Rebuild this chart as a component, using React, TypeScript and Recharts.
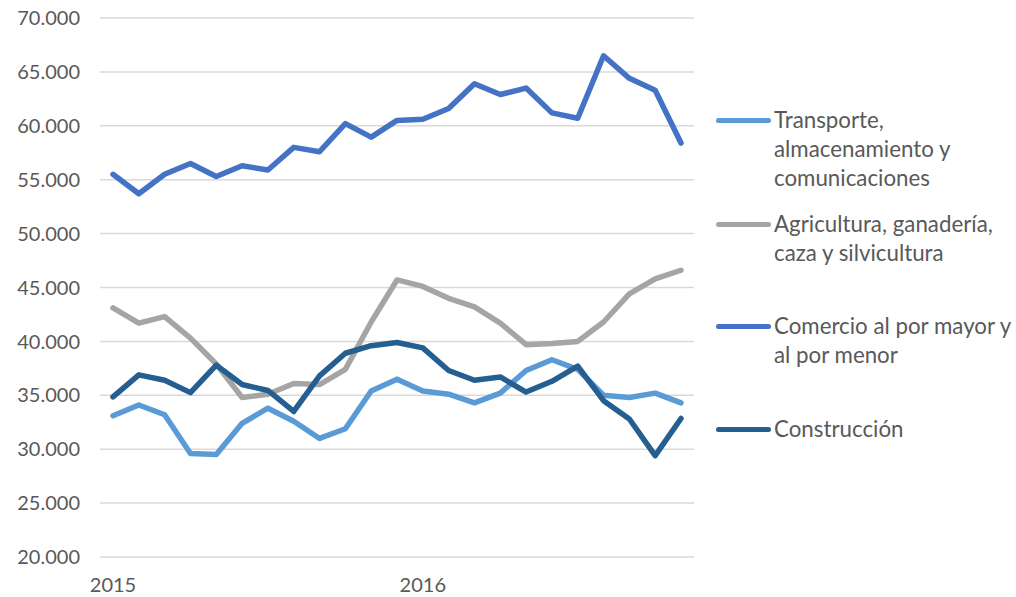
import React from "react";
import { LineChart, Line, XAxis, YAxis, CartesianGrid } from "recharts";

const months: string[] = [
  "2015-01","2015-02","2015-03","2015-04","2015-05","2015-06","2015-07","2015-08","2015-09","2015-10","2015-11","2015-12",
  "2016-01","2016-02","2016-03","2016-04","2016-05","2016-06","2016-07","2016-08","2016-09","2016-10","2016-11",
];
const transporte: number[] = [33100,34100,33200,29600,29500,32400,33800,32600,31000,31900,35400,36500,35400,35100,34300,35200,37300,38300,37400,35000,34800,35200,34300];
const agricultura: number[] = [43100,41700,42300,40300,37900,34800,35100,36100,36000,37400,41800,45700,45100,44000,43200,41700,39700,39800,40000,41800,44400,45800,46600];
const comercio: number[] = [55500,53700,55500,56500,55300,56300,55900,58000,57600,60200,58950,60500,60600,61600,63900,62900,63500,61200,60700,66500,64400,63300,58400];
const construccion: number[] = [34850,36900,36400,35250,37800,36000,35450,33500,36800,38900,39600,39900,39400,37300,36400,36700,35300,36300,37700,34500,32800,29400,32850];
const yTicks: number[] = [20000,25000,30000,35000,40000,45000,50000,55000,60000,65000,70000];

const seriesNames = [
  "Transporte, almacenamiento y comunicaciones",
  "Agricultura, ganadería, caza y silvicultura",
  "Comercio al por mayor y al por menor",
  "Construcción",
];
const legendLines: string[][] = [
  ["Transporte,", "almacenamiento y", "comunicaciones"],
  ["Agricultura, ganadería,", "caza y silvicultura"],
  ["Comercio al por mayor y", "al por menor"],
  ["Construcción"],
];
const colors = ["#5B9BD5", "#A5A5A5", "#4472C4", "#255E91"];

const data = months.map((m, i) => ({
  month: m,
  t: transporte[i],
  a: agricultura[i],
  c: comercio[i],
  k: construccion[i],
}));

const fmtY = (v: number) => String(v / 1000) + ".000";
const fmtX = (m: string) => (m.endsWith("-01") ? m.slice(0, 4) : "");

const FONT = "Lato, 'Noto Sans', sans-serif";
const TEXT = "#595959";

const legendTops = [120, 224, 326, 429];

const LegendBox = () => (
  <div style={{ position: "absolute", left: 716, top: 0, width: 300, height: 597, fontFamily: FONT, fontSize: 22.3, color: TEXT }}>
    {legendLines.map((lines, i) => (
      <div key={i} style={{ position: "absolute", left: 0, top: legendTops[i] - 15, display: "flex" }}>
        <div style={{ width: 58, height: 30, position: "relative" }}>
          <div style={{ position: "absolute", left: 0, right: 3, top: 13, height: 5, borderRadius: 3, background: colors[i] }} />
        </div>
        <div style={{ lineHeight: "29px", whiteSpace: "nowrap" }}>
          {lines.map((l, j) => (
            <div key={j}>{l}</div>
          ))}
        </div>
      </div>
    ))}
  </div>
);

export default function App() {
  return (
    <div style={{ position: "absolute", left: 0, top: 0, width: 1016, height: 597, background: "#fff" }}>
      <LineChart width={1016} height={597} data={data} margin={{ top: 18, right: 322, bottom: 10, left: 0 }}>
        <CartesianGrid vertical={false} stroke="#D9D9D9" strokeWidth={1.5} />
        <XAxis
          dataKey="month"
          interval={0}
          height={30}
          padding={{ left: 13, right: 13 }}
          tickFormatter={fmtX}
          axisLine={false}
          tickLine={false}
          tickSize={0}
          tickMargin={21}
          tick={{ fill: TEXT, fontSize: 20, fontFamily: FONT }}
        />
        <YAxis
          width={100}
          domain={[20000, 70000]}
          ticks={yTicks}
          tickFormatter={fmtY}
          axisLine={false}
          tickLine={false}
          tickSize={0}
          tickMargin={20}
          tick={{ fill: TEXT, fontSize: 20, fontFamily: FONT }}
        />
        <Line dataKey="t" name={seriesNames[0]} stroke={colors[0]} strokeWidth={5.5} dot={false} isAnimationActive={false} strokeLinecap="round" strokeLinejoin="round" />
        <Line dataKey="a" name={seriesNames[1]} stroke={colors[1]} strokeWidth={5.5} dot={false} isAnimationActive={false} strokeLinecap="round" strokeLinejoin="round" />
        <Line dataKey="c" name={seriesNames[2]} stroke={colors[2]} strokeWidth={5.5} dot={false} isAnimationActive={false} strokeLinecap="round" strokeLinejoin="round" />
        <Line dataKey="k" name={seriesNames[3]} stroke={colors[3]} strokeWidth={5.5} dot={false} isAnimationActive={false} strokeLinecap="round" strokeLinejoin="round" />
      </LineChart>
      <LegendBox />
    </div>
  );
}
